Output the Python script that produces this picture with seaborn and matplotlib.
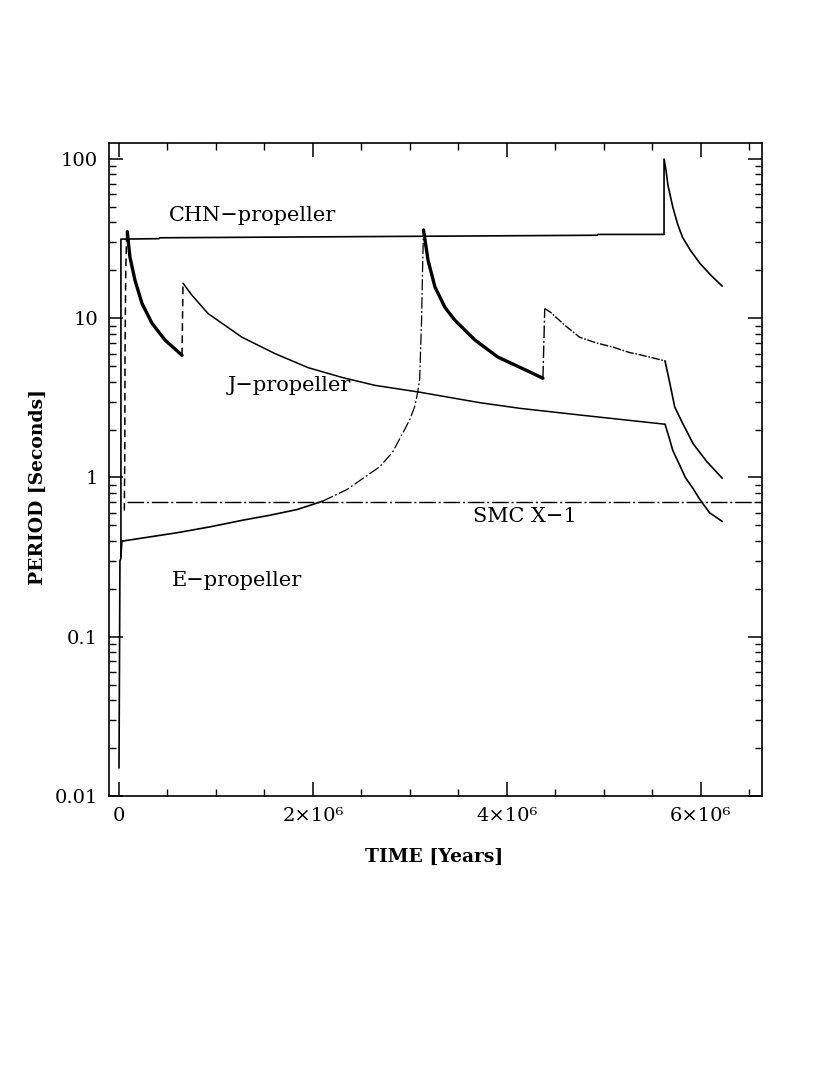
import numpy as np
import pandas as pd
import seaborn as sns
import matplotlib
matplotlib.use("Agg")
import matplotlib.pyplot as plt
from matplotlib.ticker import FixedLocator, FixedFormatter, MultipleLocator, LogLocator, NullFormatter

# ---------------- data (time in years, period in seconds) ----------------
chn_t = [0.0, 0.01e6, 0.02e6, 0.02e6, 0.41e6, 0.42e6, 4.93e6, 4.94e6, 5.62e6]
chn_p = [0.015, 0.30, 0.31, 31.4, 31.6, 32.0, 33.2, 33.6, 33.6]
chn_decay_t = [5.62e6, 5.62e6, 5.64e6, 5.66e6, 5.71e6, 5.76e6, 5.81e6, 5.89e6, 5.99e6, 6.10e6, 6.22e6]
chn_decay_p = [33.6, 100.0, 85.0, 68.6, 50.0, 39.0, 32.3, 26.8, 22.1, 18.7, 15.9]

j_rise_t = [0.055e6, 0.06e6, 0.062e6, 0.07e6, 0.08e6]
j_rise_p = [0.62, 1.5, 6.0, 20.0, 35.5]
j_thick_t = [0.085e6, 0.113e6, 0.165e6, 0.237e6, 0.34e6, 0.474e6, 0.65e6]
j_thick_p = [35.0, 24.2, 17.3, 12.4, 9.3, 7.3, 5.85]
j_jump_t = [0.65e6, 0.66e6]
j_jump_p = [5.85, 16.6]
j_thin_t = [0.66e6, 0.75e6, 0.918e6, 1.268e6, 1.608e6, 1.948e6, 2.299e6, 2.639e6,
            3.103e6, 3.72e6, 4.13e6, 4.8e6, 5.63e6]
j_thin_p = [16.6, 14.0, 10.7, 7.6, 6.0, 4.9, 4.25, 3.79, 3.43, 2.95, 2.72, 2.45, 2.16]
j_end_t = [5.63e6, 5.67e6, 5.71e6, 5.78e6, 5.84e6, 5.92e6, 5.99e6, 6.09e6, 6.22e6]
j_end_p = [2.16, 1.8, 1.48, 1.2, 1.0, 0.85, 0.727, 0.60, 0.53]

e_start_t = [0.02e6, 0.03e6, 0.05e6]
e_start_p = [0.32, 0.40, 0.40]
e_slow_t = [0.05e6, 0.6e6, 0.94e6, 1.28e6, 1.56e6, 1.84e6, 2.1e6]
e_slow_p = [0.40, 0.45, 0.49, 0.54, 0.58, 0.63, 0.71]
e_rise_t = [2.1e6, 2.35e6, 2.69e6, 2.82e6, 2.93e6, 3.0e6, 3.05e6, 3.08e6, 3.10e6,
            3.12e6, 3.13e6, 3.14e6]
e_rise_p = [0.71, 0.84, 1.17, 1.44, 1.92, 2.32, 2.8, 3.43, 4.13, 9.86, 20.3, 35.8]
e_thick_t = [3.14e6, 3.186e6, 3.258e6, 3.361e6, 3.464e6, 3.67e6, 3.907e6, 4.155e6, 4.371e6]
e_thick_p = [35.8, 23.2, 15.7, 11.7, 9.7, 7.3, 5.7, 4.85, 4.2]
e_jump_t = [4.371e6, 4.39e6]
e_jump_p = [4.2, 11.5]
e_thin_t = [4.39e6, 4.45e6, 4.6e6, 4.75e6, 4.92e6, 5.09e6, 5.26e6, 5.37e6, 5.63e6]
e_thin_p = [11.5, 10.9, 9.0, 7.6, 7.0, 6.6, 6.1, 5.9, 5.4]
e_end_t = [5.63e6, 5.68e6, 5.73e6, 5.81e6, 5.92e6, 6.06e6, 6.22e6]
e_end_p = [5.4, 3.9, 2.77, 2.2, 1.63, 1.26, 0.99]

smc_t = [0.08e6, 6.63e6]
smc_p = [0.706, 0.706]

y_ticks = [0.01, 0.1, 1, 10, 100]
y_labels = ["0.01", "0.1", "1", "10", "100"]
x_ticks = [0, 2e6, 4e6, 6e6]
x_labels = ["0", "2×10⁶", "4×10⁶", "6×10⁶"]

# ---------------- figure ----------------
sns.set_theme(style="ticks")
plt.rcParams["font.family"] = ["DejaVu Serif"]
fig = plt.figure(figsize=(8.3, 10.75), dpi=100)
ax = fig.add_axes([109 / 830, 1 - 796 / 1075, (762 - 109) / 830, (796 - 143) / 1075])

solid = "-"
dashed = (0, (5, 3))
dashdot = (0, (9, 2, 1.5, 2))
finedash = (0, (6, 1.2, 1.2, 1.2))

segments = [
    (chn_t, chn_p, 1.2, solid),
    (chn_decay_t, chn_decay_p, 1.2, solid),
    (j_rise_t, j_rise_p, 1.1, dashed),
    (j_thick_t, j_thick_p, 2.4, solid),
    (j_jump_t, j_jump_p, 1.1, dashed),
    (j_thin_t, j_thin_p, 1.1, solid),
    (j_end_t, j_end_p, 1.2, solid),
    (e_start_t, e_start_p, 1.2, solid),
    (e_slow_t, e_slow_p, 1.2, solid),
    (e_rise_t, e_rise_p, 0.9, dashdot),
    (e_thick_t, e_thick_p, 2.4, solid),
    (e_jump_t, e_jump_p, 1.0, dashdot),
    (e_thin_t, e_thin_p, 1.0, finedash),
    (e_end_t, e_end_p, 1.2, solid),
    (smc_t, smc_p, 1.0, (0, (12, 2, 1.5, 2))),
]
for t, p, lw, ls in segments:
    df = pd.DataFrame({"t": t, "p": p})
    sns.lineplot(data=df, x="t", y="p", ax=ax, color="black", lw=lw,
                 linestyle=ls, sort=False, estimator=None)

ax.set_yscale("log")
ax.set_xlim(-1.03e5, 6.63e6)
ax.set_ylim(0.01, 126)

ax.yaxis.set_major_locator(FixedLocator(y_ticks))
ax.yaxis.set_major_formatter(FixedFormatter(y_labels))
ax.yaxis.set_minor_locator(LogLocator(base=10, subs=np.arange(2, 10)))
ax.yaxis.set_minor_formatter(NullFormatter())
ax.xaxis.set_major_locator(FixedLocator(x_ticks))
ax.xaxis.set_major_formatter(FixedFormatter(x_labels))
ax.xaxis.set_minor_locator(MultipleLocator(5e5))

ax.tick_params(which="both", direction="in", top=True, right=True, color="black",
               labelsize=14, labelcolor="black")
ax.tick_params(which="major", length=10, width=1.1, pad=8)
ax.tick_params(which="minor", length=5, width=1.0)
for s in ax.spines.values():
    s.set_color("black")
    s.set_linewidth(1.2)

ax.set_xlabel("TIME [Years]", fontsize=13.5, fontweight="bold", color="black")
ax.set_ylabel("PERIOD [Seconds]", fontsize=13.5, fontweight="bold", color="black")
ax.xaxis.set_label_coords((434 - 109) / 653, (796 - 848) / 653)
ax.yaxis.set_label_coords((47 - 109) / 653, (796 - 487) / 653)

txt = dict(fontsize=15, color="black", ha="center", va="center")
ax.text(1.38e6, 43.9, "CHN\u2212propeller", **txt)
ax.text(1.76e6, 3.79, "J\u2212propeller", **txt)
ax.text(1.22e6, 0.224, "E\u2212propeller", **txt)
ax.text(4.19e6, 0.567, "SMC X\u22121", **txt)

fig.savefig("out.png", dpi=100, facecolor="white")
